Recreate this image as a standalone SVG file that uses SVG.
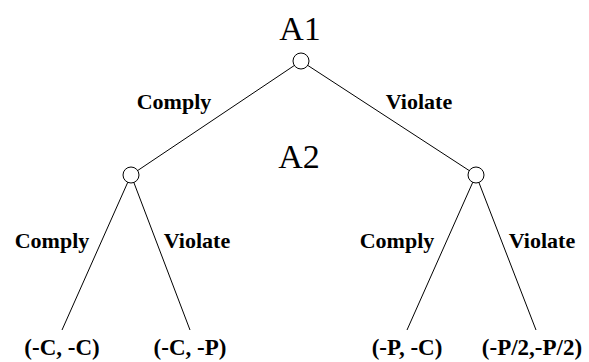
<svg xmlns="http://www.w3.org/2000/svg" width="589" height="362" viewBox="0 0 589 362">
<style>
.e{stroke:#000;stroke-width:1;fill:none}
.n{fill:#fff;stroke:#000;stroke-width:1}
text{font-family:'Liberation Serif','Times New Roman',serif;fill:#000}
.lbl{font-size:22px;font-weight:bold}
.leaf{font-size:23px;font-weight:bold}
.pl{font-size:34px}
</style>
<rect width="589" height="362" fill="#fff"/>
<g id="connectors">
<line class="e" x1="301" y1="61" x2="131" y2="175"/>
<line class="e" x1="301" y1="61" x2="476" y2="175"/>
<line class="e" x1="131" y1="175" x2="62" y2="330"/>
<line class="e" x1="131" y1="175" x2="190" y2="330"/>
<line class="e" x1="476" y1="175" x2="407" y2="330"/>
<line class="e" x1="476" y1="175" x2="536" y2="330"/>
</g>
<g id="edge-labels">
<text class="lbl" x="174" y="109" text-anchor="middle">Comply</text>
<text class="lbl" x="419" y="109" text-anchor="middle">Violate</text>
<text class="lbl" x="52" y="248" text-anchor="middle">Comply</text>
<text class="lbl" x="197" y="248" text-anchor="middle">Violate</text>
<text class="lbl" x="397" y="248" text-anchor="middle">Comply</text>
<text class="lbl" x="542" y="248" text-anchor="middle">Violate</text>
</g>
<g id="A1">
<text class="pl" x="300" y="40" text-anchor="middle">A1</text>
<circle class="n" cx="301" cy="61" r="8"/>
</g>
<g id="A2">
<text class="pl" x="299" y="168" text-anchor="middle">A2</text>
</g>
<g id="node-left"><circle class="n" cx="131" cy="175" r="8"/></g>
<g id="node-right"><circle class="n" cx="476" cy="175" r="8"/></g>
<g id="leaf1"><text class="leaf" x="62" y="355" text-anchor="middle">(-C, -C)</text></g>
<g id="leaf2"><text class="leaf" x="190" y="355" text-anchor="middle">(-C, -P)</text></g>
<g id="leaf3"><text class="leaf" x="407" y="355" text-anchor="middle">(-P, -C)</text></g>
<g id="leaf4"><text class="leaf" x="532" y="355" text-anchor="middle">(-P/2,-P/2)</text></g>
</svg>
